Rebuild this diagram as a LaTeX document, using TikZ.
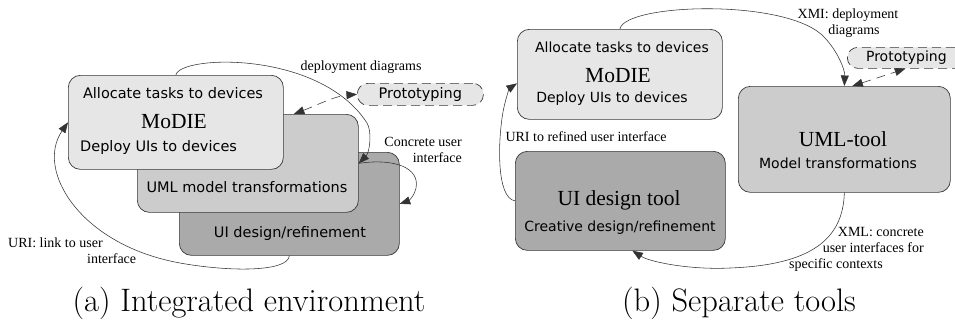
\documentclass[tikz,border=0pt]{standalone}
\usepackage{fontspec}
\newfontfamily\boxsans{DejaVu Sans}
\newfontfamily\lblserif{Liberation Serif}
\usetikzlibrary{arrows.meta}

\definecolor{fillLight}{HTML}{E6E6E6}
\definecolor{fillMid}{HTML}{CCCCCC}
\definecolor{fillDark}{HTML}{AAAAAA}
\definecolor{edgeGray}{HTML}{383838}

\begin{document}
\begin{tikzpicture}[x=1pt,y=-1pt,
  toolbox/.style={draw=edgeGray, line width=0.7pt, rounded corners=12pt,
    anchor=north west, inner sep=0pt},
  pill/.style={draw=edgeGray, fill=fillLight, line width=0.7pt, dash pattern=on 9pt off 5pt,
    rounded corners=10.5pt, anchor=north west, inner sep=0pt,
    font=\boxsans\fontsize{14.5}{17}\selectfont},
  sanstext/.style={inner sep=0pt, font=\boxsans\fontsize{14.5}{17}\selectfont},
  sanstextB/.style={inner sep=0pt, font=\boxsans\fontsize{14}{17}\selectfont},
  titletext/.style={inner sep=0pt, font=\lblserif\fontsize{21.5}{24}\selectfont},
  lbl/.style={inner sep=0pt, font=\lblserif\fontsize{14}{16}\selectfont},
  caption/.style={inner sep=0pt, anchor=base, font=\fontsize{32.5}{38}\selectfont},
  conn/.style={draw=black!80, line width=0.55pt, -{Triangle[length=10.5pt,width=8pt]}},
  dconn/.style={draw=black!80, line width=0.55pt, dash pattern=on 9pt off 6pt,
    {Triangle[length=10.5pt,width=8pt]}-{Triangle[length=10.5pt,width=8pt]}}
]
\clip (0,0) rectangle (955,325);
\fill[white] (0,0) rectangle (955,325);

% ---------- (a) integrated environment ----------
\node[toolbox, fill=fillDark, minimum width=220pt, minimum height=103pt] (uiA) at (179,152) {};
\node[toolbox, fill=fillMid, minimum width=221pt, minimum height=98pt] (umlA) at (137,114) {};
\node[toolbox, fill=fillLight, minimum width=215pt, minimum height=94pt] (modieA) at (68,75) {};
\node[pill, minimum width=126pt, minimum height=22pt] (protoA) at (357,83) {Prototyping};

\node[sanstext] (tAllocA) at (173,93) {Allocate tasks to devices};
\node[titletext] (tModieA) at (174,122) {MoDIE};
\node[sanstext, anchor=west] (tDeployA) at (80,147) {Deploy UIs to devices};
\node[sanstext] (tUmlA) at (247,187) {UML model transformations};
\node[sanstext] (tUiA) at (290,233) {UI design/refinement};

\node[lbl] (lDeployA) at (361,67) {deployment diagrams};
\node[lbl, align=right, anchor=east] (lConcreteA) at (462,150) {Concrete user\\interface};
\node[lbl, align=left, anchor=west] (lUriA) at (8,251) {URI: link to user\\\hspace*{79pt}interface};

\draw[conn] (modieA.north) .. controls (180,55) and (320,50) .. (367,123)
  .. controls (372,131) and (370,152) .. (umlA.east);
\draw[conn] (umlA.east) .. controls (395,158) and (420,168) .. (416,188)
  .. controls (414,197) and (408,201) .. (uiA.east);
\draw[conn] (uiA.south) .. controls (288,272) and (230,272) .. (180,263)
  .. controls (80,245) and (35,170) .. (modieA.west);
\draw[dconn] ([xshift=46pt]umlA.north) .. controls (315,106) and (335,96) .. (protoA.west);

% ---------- (b) separate tools ----------
\node[toolbox, fill=fillLight, minimum width=205pt, minimum height=90pt] (modieB) at (517,29) {};
\node[toolbox, fill=fillDark, minimum width=210pt, minimum height=99pt] (uiB) at (515,151) {};
\node[toolbox, fill=fillMid, minimum width=212pt, minimum height=106pt] (umlB) at (738,86) {};
\node[pill, minimum width=118pt, minimum height=21pt, font=\boxsans\fontsize{14}{17}\selectfont] (protoB) at (847,47) {Prototyping};

\node[sanstextB] (tAllocB) at (622,47) {Allocate tasks to devices};
\node[titletext] (tModieB) at (618,76) {MoDIE};
\node[sanstextB] (tDeployB) at (612,99) {Deploy UIs to devices};
\node[titletext] (tUmlB) at (843,139) {UML-tool};
\node[sanstextB] (tModelB) at (838,163) {Model transformations};
\node[titletext] (tUiB) at (619,200) {UI design tool};
\node[sanstextB] (tCreativeB) at (620,228) {Creative design/refinement};

\node[lbl, align=center] (lXmiB) at (848,23) {XMI: deployment\\\hspace*{12pt}diagrams};
\node[lbl] (lUriB) at (586,137) {URI to refined user interface};
\node[lbl, align=right, anchor=east] (lXmlB) at (924,249) {XML: concrete\\user interfaces for\\specific contexts\hspace*{41pt}};

\draw[conn] (modieB.north) .. controls (625,3) and (790,-2) .. (825,38)
  .. controls (838,52) and (845,70) .. (umlB.north);
\draw[dconn] ([xshift=8pt]umlB.north) -- ([xshift=-1pt]protoB.south);
\draw[conn] (umlB.south) .. controls (843,240) and (810,265) .. (730,268)
  .. controls (690,270) and (650,262) .. ([xshift=12pt]uiB.south);
\draw[conn] (uiB.west) .. controls (496,198) and (498,140) .. (503,112)
  .. controls (506,96) and (510,88) .. ([yshift=-9pt]modieB.west);

% ---------- sub-captions ----------
\node[caption] (capA) at (249,311) {(a) Integrated environment};
\node[caption] (capB) at (739,311) {(b) Separate tools};
\end{tikzpicture}
\end{document}
